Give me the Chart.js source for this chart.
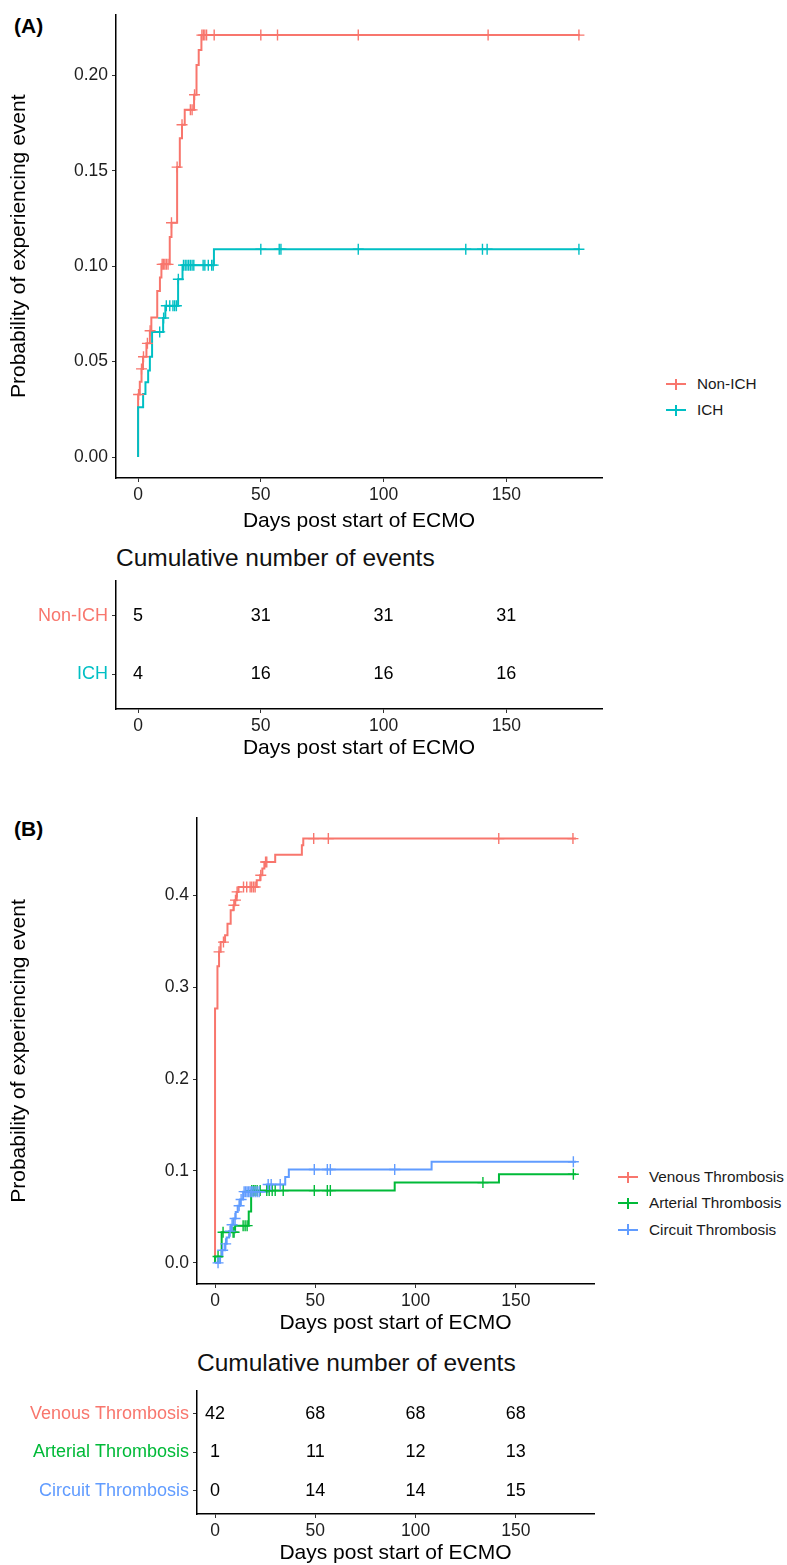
<!DOCTYPE html>
<html>
<head>
<meta charset="utf-8">
<script src="https://cdn.jsdelivr.net/npm/chart.js@4.4.1/dist/chart.umd.min.js"></script>
<style>
html,body{margin:0;padding:0;background:#fff;}
body{width:787px;height:1565px;position:relative;overflow:hidden;font-family:"Liberation Sans",Arial,Helvetica,sans-serif;color:#000;}
canvas{position:absolute;left:0;}
.txt{position:absolute;white-space:nowrap;line-height:1;transform:translateY(-50%);}
.panel{font-weight:bold;font-size:21px;}
.ttl{font-size:24.5px;color:#111;}
.leg{position:absolute;height:20px;width:180px;transform:translateY(-50%);}
.leg .ln{position:absolute;left:0;top:9px;width:20px;height:2px;}
.leg .vt{position:absolute;left:9.3px;top:4.5px;width:1.5px;height:11px;}
.leg .lt{position:absolute;left:31px;top:2px;font-size:15.3px;line-height:1;color:#1a1a1a;white-space:nowrap;}
</style>
</head>
<body>
<div class="txt panel" style="left:14px;top:25px;">(A)</div>
<div class="txt panel" style="left:14px;top:828px;">(B)</div>
<div class="txt ttl" style="left:116px;top:558px;">Cumulative number of events</div>
<div class="txt ttl" style="left:197px;top:1363px;">Cumulative number of events</div>
<div id="legA"></div>
<div id="legB"></div>
<canvas id="cA" width="787" height="534" style="top:0px"></canvas>
<canvas id="tA" width="787" height="201" style="top:560px"></canvas>
<canvas id="cB" width="787" height="536" style="top:800px"></canvas>
<canvas id="tB" width="787" height="190" style="top:1376px"></canvas>
<script>
// ---------------- shared ----------------
const xTickVals = [0, 50, 100, 150];
const tableDays = [0, 50, 100, 150];
const xTitle = 'Days post start of ECMO';
const yTitle = 'Probability of experiencing event';

// ---------------- Panel A ----------------
const groupsA = ['Non-ICH', 'ICH'];
const colorsA = ['#F8766D', '#00BFC4'];
const yTicksA = [0, 0.05, 0.10, 0.15, 0.20];

const nonIchDays = [0, 0, 0.7, 1.4, 2.0, 3.4, 4.8, 5.4, 7.8, 8.9, 9.5, 12.9, 13.6, 15.9, 17.0, 17.9, 19.0, 22.8, 23.8, 24.7, 25.8, 180];
const nonIchProb = [0, 0.0328, 0.0395, 0.0462, 0.0526, 0.0596, 0.0662, 0.0732, 0.0871, 0.0941, 0.1010, 0.1153, 0.1228, 0.1520, 0.1671, 0.1742, 0.1820, 0.1899, 0.2055, 0.2134, 0.2212, 0.2212];
const nonIchCensor = [0.2, 1.4, 2.2, 3.8, 4.9, 9.8, 10.3, 10.9, 11.5, 12.2, 13.6, 15.9, 17.9, 21.3, 22.0, 23.0, 26.0, 26.6, 27.2, 27.9, 31.0, 50.0, 56.8, 89.7, 142.6, 179.6];

const ichDays = [0, 0, 2.05, 3.0, 4.1, 4.8, 5.7, 10.2, 11.1, 16.3, 18.1, 30.9, 180];
const ichProb = [0, 0.0261, 0.0331, 0.0392, 0.0453, 0.0526, 0.0656, 0.0729, 0.0793, 0.0932, 0.1006, 0.1089, 0.1089];
const ichCensor = [8.8, 10.4, 11.5, 12.9, 14.2, 14.9, 15.6, 16.4, 18.5, 19.2, 19.9, 20.6, 21.3, 22.0, 22.7, 26.5, 27.2, 28.6, 30.0, 30.6, 50.0, 57.5, 58.2, 89.7, 133.5, 140.3, 142.2, 179.6];

const nonIchCum = [5, 31, 31, 31];
const ichCum = [4, 16, 16, 16];

// ---------------- Panel B ----------------
const groupsB = ['Venous Thrombosis', 'Arterial Thrombosis', 'Circuit Thrombosis'];
const colorsB = ['#F8766D', '#00BA38', '#619CFF'];
const yTicksB = [0, 0.1, 0.2, 0.3, 0.4];

const venDays = [0, 0, 1.2, 2.0, 2.8, 5.0, 6.2, 7.8, 9.2, 10.0, 10.8, 11.7, 20.8, 22.5, 23.6, 24.6, 30.0, 43.3, 44.0, 180];
const venProb = [0, 0.2768, 0.3228, 0.3384, 0.3490, 0.3565, 0.3690, 0.3837, 0.3890, 0.3946, 0.4036, 0.4090, 0.4163, 0.4217, 0.4290, 0.4362, 0.4440, 0.4543, 0.4616, 0.4616];
const venCensor = [2.0, 4.2, 9.4, 10.2, 11.0, 14.2, 15.8, 17.5, 18.3, 19.2, 20.0, 22.8, 25.2, 25.8, 49.2, 56.5, 141.5, 178.5];

const artDays = [0, 0, 3.3, 10.0, 16.8, 18.0, 89.6, 141.6, 180];
const artProb = [0, 0.0069, 0.0333, 0.0405, 0.0558, 0.0786, 0.0873, 0.0964, 0.0964];
const artCensor = [1.5, 4.0, 9.0, 9.5, 14.0, 15.0, 16.0, 18.3, 19.2, 20.0, 21.0, 22.5, 25.8, 27.0, 28.5, 30.0, 34.0, 49.5, 56.0, 57.5, 133.6, 178.7];

const cirDays = [0, 2.5, 3.3, 5.0, 5.8, 7.0, 8.0, 9.2, 10.3, 11.3, 12.5, 14.0, 26.2, 35.0, 36.8, 108.0, 180];
const cirProb = [0, 0.0069, 0.0138, 0.0207, 0.0276, 0.0345, 0.0414, 0.0483, 0.0552, 0.0621, 0.0690, 0.0775, 0.0852, 0.0935, 0.1015, 0.1100, 0.1100];
const cirCensor = [1.5, 3.8, 5.3, 7.5, 8.5, 10.0, 12.0, 13.0, 14.5, 15.3, 16.0, 16.8, 17.5, 18.3, 19.0, 20.0, 21.0, 22.0, 26.5, 28.0, 32.5, 49.5, 56.0, 57.5, 89.6, 178.7];

const venCum = [42, 68, 68, 68];
const artCum = [1, 11, 12, 13];
const cirCum = [0, 14, 14, 15];

// ---------------- helpers ----------------
Chart.defaults.font.family = '"Liberation Sans", Arial, Helvetica, sans-serif';
Chart.defaults.color = '#222';

function stepPoints(days, probs) { return days.map((d, i) => ({x: d, y: probs[i]})); }
function probAt(days, probs, t) {
  let v = probs[0];
  for (let i = 0; i < days.length; i++) { if (days[i] <= t) v = probs[i]; }
  return v;
}
const gridOpts = {drawOnChartArea: false, drawTicks: true, tickLength: 4, color: '#333', lineWidth: 1};
const borderOpts = {display: true, color: '#000', width: 1.5};

function xScale(height) {
  return {
    type: 'linear', min: -9, max: 189,
    afterBuildTicks: s => { s.ticks = xTickVals.map(v => ({value: v})); },
    afterFit: s => { s.height = height; },
    ticks: {color: '#1e1e1e', font: {size: 17.5}, padding: 3, maxRotation: 0, autoSkip: false, callback: v => String(v)},
    grid: gridOpts, border: borderOpts,
    title: {display: true, text: xTitle, color: '#000', font: {size: 21}, padding: {top: 0, bottom: 0}}
  };
}
function yProbScale(min, max, ticks, digits, width) {
  return {
    type: 'linear', min: min, max: max,
    afterBuildTicks: s => { s.ticks = ticks.map(v => ({value: v})); },
    afterFit: s => { s.width = width; },
    ticks: {color: '#1e1e1e', font: {size: 17.5}, padding: 4, callback: v => Number(v).toFixed(digits)},
    grid: gridOpts, border: borderOpts,
    title: {display: true, text: yTitle, color: '#000', font: {size: 21}, padding: {top: 7, bottom: 0}}
  };
}
function yRowScale(names, colors, width) {
  const n = names.length;
  return {
    type: 'linear', min: 0.4, max: n + 0.6,
    afterBuildTicks: s => { s.ticks = names.map((_, i) => ({value: n - i})); },
    afterFit: s => { s.width = width; },
    ticks: {font: {size: 18}, padding: 4,
      color: c => (c.tick ? colors[n - Math.round(c.tick.value)] : '#000'),
      callback: v => names[n - Math.round(v)]},
    grid: gridOpts, border: borderOpts
  };
}

function kmChart(id, groups, colors, dayArrs, probArrs, censArrs, yScale, pad, xH) {
  const datasets = [];
  groups.forEach((g, i) => {
    datasets.push({type: 'line', label: g, data: stepPoints(dayArrs[i], probArrs[i]),
      stepped: 'before', borderColor: colors[i], borderWidth: 2, pointRadius: 0,
      fill: false, order: 100 - i});
  });
  groups.forEach((g, i) => {
    datasets.push({type: 'scatter', label: g + ' censored',
      data: censArrs[i].map(t => ({x: t, y: probAt(dayArrs[i], probArrs[i], t)})),
      pointStyle: 'cross', pointRadius: 5.5, borderColor: colors[i], backgroundColor: colors[i],
      borderWidth: 1.4, order: 50 - i});
  });
  return new Chart(document.getElementById(id), {
    type: 'scatter',
    data: {datasets: datasets},
    options: {
      responsive: false, animation: false, events: [],
      layout: {padding: pad},
      plugins: {legend: {display: false}, tooltip: {enabled: false}},
      scales: {x: xScale(xH), y: yScale}
    }
  });
}

function tableChart(id, names, colors, counts, yWidth, pad, xH) {
  const n = names.length;
  const countPlugin = {
    id: 'rowCounts',
    afterDatasetsDraw(chart) {
      const ctx = chart.ctx, xs = chart.scales.x, ys = chart.scales.y;
      ctx.save();
      ctx.font = '18px "Liberation Sans", Arial, sans-serif';
      ctx.fillStyle = '#000';
      ctx.textAlign = 'center';
      ctx.textBaseline = 'middle';
      counts.forEach((row, i) => {
        row.forEach((c, j) => {
          ctx.fillText(String(c), xs.getPixelForValue(tableDays[j]), ys.getPixelForValue(n - i));
        });
      });
      ctx.restore();
    }
  };
  return new Chart(document.getElementById(id), {
    type: 'scatter',
    data: {datasets: []},
    options: {
      responsive: false, animation: false, events: [],
      layout: {padding: pad},
      plugins: {legend: {display: false}, tooltip: {enabled: false}},
      scales: {x: xScale(xH), y: yRowScale(names, colors, yWidth)}
    },
    plugins: [countPlugin]
  });
}

function legend(containerId, names, colors, left, centers) {
  const box = document.getElementById(containerId);
  names.forEach((nm, i) => {
    const d = document.createElement('div');
    d.className = 'leg';
    d.style.left = left + 'px';
    d.style.top = centers[i] + 'px';
    d.innerHTML = '<div class="ln" style="background:' + colors[i] + '"></div>' +
                  '<div class="vt" style="background:' + colors[i] + '"></div>' +
                  '<div class="lt">' + nm + '</div>';
    box.appendChild(d);
  });
}

// ---------------- build ----------------
kmChart('cA', groupsA, colorsA, [nonIchDays, ichDays], [nonIchProb, ichProb], [nonIchCensor, ichCensor],
  yProbScale(-0.011, 0.232, yTicksA, 2, 116), {left: 0, top: 12, right: 185, bottom: 0}, 56);
tableChart('tA', groupsA, colorsA, [nonIchCum, ichCum], 116, {left: 0, top: 21, right: 185, bottom: 0}, 52);

kmChart('cB', groupsB, colorsB, [venDays, artDays, cirDays], [venProb, artProb, cirProb], [venCensor, artCensor, cirCensor],
  yProbScale(-0.023, 0.484, yTicksB, 1, 197), {left: 0, top: 18, right: 193, bottom: 0}, 52);
tableChart('tB', groupsB, colorsB, [venCum, artCum, cirCum], 197, {left: 0, top: 10, right: 193, bottom: 0}, 52);

legend('legA', groupsA, colorsA, 666, [384, 410]);
legend('legB', groupsB, colorsB, 618, [1177, 1203, 1229.5]);
</script>
</body>
</html>
